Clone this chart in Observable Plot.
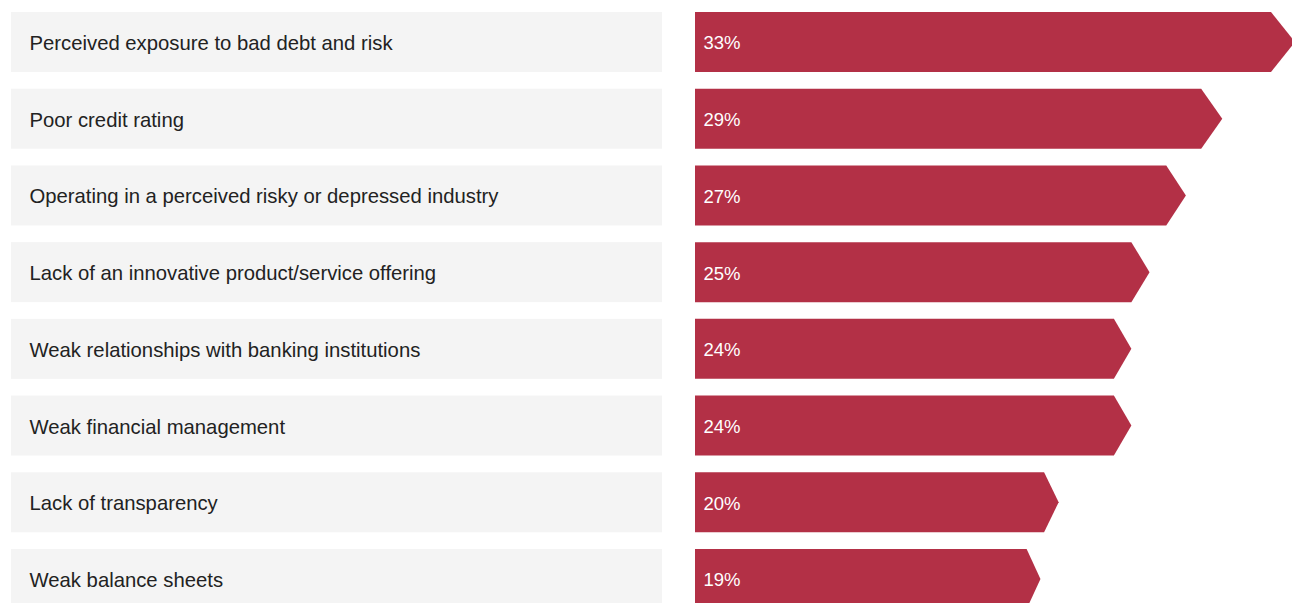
<!DOCTYPE html>
<html>
<head>
<meta charset="utf-8">
<script src="https://cdn.jsdelivr.net/npm/d3@7"></script>
<script src="https://cdn.jsdelivr.net/npm/@observablehq/plot@0.6"></script>
<style>
  html, body { margin: 0; padding: 0; background: #fff; overflow: hidden; }
  #wrap { display: flex; flex-direction: row; width: 1292px; height: 603px; overflow: hidden; }
  svg { display: block; }
</style>
</head>
<body>
<div id="wrap"></div>
<script>
const categories = [
  "Perceived exposure to bad debt and risk",
  "Poor credit rating",
  "Operating in a perceived risky or depressed industry",
  "Lack of an innovative product/service offering",
  "Weak relationships with banking institutions",
  "Weak financial management",
  "Lack of transparency",
  "Weak balance sheets"
];
const values = [33, 29, 27, 25, 24, 24, 20, 19];
const valueLabels = ["33%", "29%", "27%", "25%", "24%", "24%", "20%", "19%"];

const rows = categories.map((c, i) => ({category: c, value: values[i], label: valueLabels[i]}));

const font = "'Liberation Sans', Arial, sans-serif";
const yScale = {domain: categories, range: [12, 609], paddingInner: 0.218, paddingOuter: 0, round: false, axis: null};

const left = Plot.plot({
  width: 695,
  height: 603,
  margin: 0,
  style: {fontFamily: font, background: "transparent", overflow: "hidden"},
  x: {domain: [0, 1], range: [11, 662], axis: null},
  y: yScale,
  marks: [
    Plot.barX(rows, {x1: () => 0, x2: () => 1, y: "category", fill: "#f4f4f4"}),
    Plot.text(rows, {x: () => 0, y: "category", text: "category", textAnchor: "start", dx: 18, dy: 1, fontSize: 20.3, fill: "#222222", fontWeight: 400})
  ]
});

const right = Plot.plot({
  width: 597,
  height: 603,
  margin: 0,
  style: {fontFamily: font, background: "transparent", overflow: "hidden"},
  x: {domain: [0, 33], range: [0, 600], axis: null},
  y: yScale,
  marks: [
    Plot.barX(rows, {x1: () => 0, x2: "value", y: "category", fill: "#b33046"}),
    Plot.text(rows, {x: () => 0, y: "category", text: "label", textAnchor: "start", dx: 8, dy: 1, fontSize: 18.5, fill: "#ffffff"})
  ]
});

// turn each bar rect into an arrow shape (tip = 4% of the bar length)
d3.select(right).selectAll('g[aria-label="bar"] rect').each(function () {
  const r = d3.select(this);
  const x = +r.attr("x"), y = +r.attr("y"), w = +r.attr("width"), h = +r.attr("height");
  const body = x + w * 0.96;
  const p = `M${x},${y}H${body}L${x + w},${y + h / 2}L${body},${y + h}H${x}Z`;
  const path = document.createElementNS("http://www.w3.org/2000/svg", "path");
  path.setAttribute("d", p);
  this.parentNode.insertBefore(path, this);
  this.remove();
});

document.getElementById("wrap").append(left, right);
</script>
</body>
</html>
